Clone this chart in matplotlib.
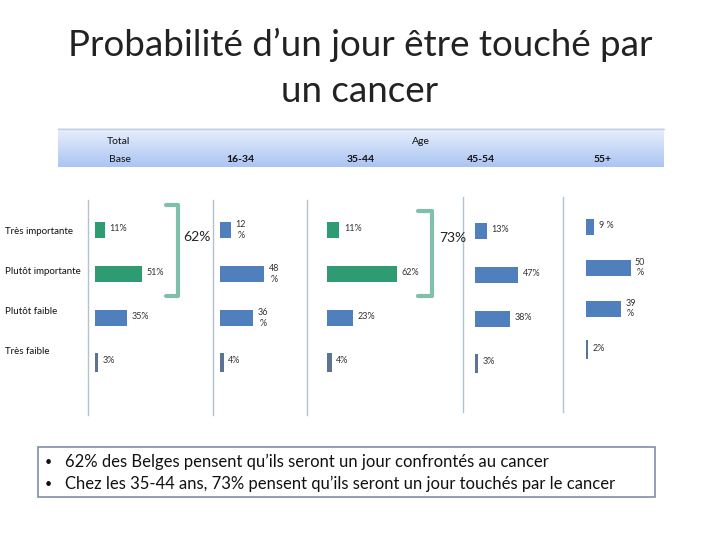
import matplotlib
matplotlib.use("Agg")
import matplotlib.pyplot as plt
import numpy as np

# ---------------- data ----------------
title_text = "Probabilité d\u2019un jour être touché par\nun cancer"
categories = ["Très importante", "Plutôt importante", "Plutôt faible", "Très faible"]
groups = ["Base", "16-34", "35-44", "45-54", "55+"]
total_vals = [11, 51, 35, 3]
age_16_34 = [12, 48, 36, 4]
age_35_44 = [11, 62, 23, 4]
age_45_54 = [13, 47, 38, 3]
age_55p = [9, 50, 39, 2]
labels_total = ["11%", "51%", "35%", "3%"]
labels_16_34 = ["12\n%", "48\n%", "36\n%", "4%"]
labels_35_44 = ["11%", "62%", "23%", "4%"]
labels_45_54 = ["13%", "47%", "38%", "3%"]
labels_55p = ["9 %", "50\n%", "39\n%", "2%"]
bracket_total = "62%"
bracket_35_44 = "73%"
bullets = ["62% des Belges pensent qu\u2019ils seront un jour confrontés au cancer",
           "Chez les 35-44 ans, 73% pensent qu\u2019ils seront un jour touchés par le cancer"]

FONT = ["Liberation Sans Narrow", "Lato", "DejaVu Sans"]
plt.rcParams["font.family"] = FONT

GREEN = "#2e9b72"
BLUE = "#4f7fbd"
THIN = "#5b7396"
BRACKET = "#80bfa8"
SEP = "#b4c2cc"
TXT = "#333333"

W, H = 720, 540
fig = plt.figure(figsize=(7.2, 5.4), dpi=100)
bg = fig.add_axes([0, 0, 1, 1])
bg.set_xlim(0, W)
bg.set_ylim(H, 0)
bg.axis("off")

# title
bg.text(360, 45, title_text.split("\n")[0], ha="center", va="center", fontsize=26.5,
        color="#222222", family=["Lato", "DejaVu Sans"])
bg.text(360, 92, title_text.split("\n")[1], ha="center", va="center", fontsize=26.5,
        color="#222222", family=["Lato", "DejaVu Sans"])

# header gradient band
grad = np.linspace(0, 1, 64).reshape(-1, 1)
top_c = np.array([0.91, 0.94, 0.99])
bot_c = np.array([0.67, 0.77, 0.95])
img = top_c + (bot_c - top_c) * grad[..., None]
img = np.repeat(img, 2, axis=1)
bg.imshow(img, extent=[58, 664, 167, 128], aspect="auto", interpolation="bilinear", zorder=1)
bg.plot([58, 664], [128.5, 128.5], color="#c4cfdc", lw=1, zorder=2)
bg.text(107, 141, "Total", fontsize=7.5, va="center", ha="left", color="#111111")
bg.text(421, 141, "Age", fontsize=7.5, va="center", ha="center", color="#111111")
for gx, g in zip([109, 240, 361, 481, 603], groups):
    bg.text(gx, 160, g, fontsize=7.5, va="center",
            ha="left" if g == "Base" else "center", color="#111111",
            fontweight="normal" if g == "Base" else "bold")

# row labels
for ry, c in zip([232, 271, 312, 352], categories):
    bg.text(5, ry, c, fontsize=7, va="center", ha="left", color="#111111")

# separators
for sx, y0, y1 in [(88, 200, 415), (213, 200, 415), (307, 200, 415),
                   (463, 197, 412), (563, 197, 412)]:
    bg.plot([sx, sx], [y0, y1], color=SEP, lw=1, zorder=2)

# brackets
def bracket(x0, x1, y0, y1, label, lx, ly):
    bg.plot([x0, x1, x1, x0], [y0, y0, y1, y1], color=BRACKET, lw=3,
            solid_joinstyle="round", solid_capstyle="round", zorder=3)
    bg.text(lx, ly, label, fontsize=10, va="center", ha="left", color="#222222",
            family=["Lato", "DejaVu Sans"])

bracket(166, 178, 205, 296, bracket_total, 183, 237)
bracket(418, 432, 211, 296, bracket_35_44, 439, 238)

# bottom text box
bg.add_patch(plt.Rectangle((38, 447), 617, 50, fill=False, ec="#7f8ea4", lw=1.2, zorder=3))
for by, t in zip([462, 484], bullets):
    bg.text(45, by, "\u2022", fontsize=9, va="center", ha="left", color="#111111")
    bg.text(65, by, t, fontsize=12, va="center", ha="left", color="#111111")

# panels: (values, labels, x start px, px per %, top px, row spacing px, green rows)
panels = [
    (total_vals, labels_total, 95, 0.92, 208, 44, [0, 1]),
    (age_16_34, labels_16_34, 220, 0.92, 208, 44, []),
    (age_35_44, labels_35_44, 327, 1.13, 208, 44, [0, 1]),
    (age_45_54, labels_45_54, 475, 0.92, 209, 44, []),
    (age_55p, labels_55p, 586, 0.89, 206, 41, []),
]

for vals, labs, x0, ppp, top, sp, greens in panels:
    width_px = 80 * ppp
    height_px = 4 * sp
    ax = fig.add_axes([x0 / W, 1 - (top + height_px) / H, width_px / W, height_px / H])
    ax.set_xlim(0, 80)
    ax.set_ylim(3.5, -0.5)
    ax.axis("off")
    ax.patch.set_alpha(0)
    ypos = np.arange(len(vals))
    cols = []
    for i in range(len(vals)):
        if i == 3:
            cols.append(THIN)
        elif i in greens:
            cols.append(GREEN)
        else:
            cols.append(BLUE)
    hts = [16 / sp] * 3 + [19 / sp]
    ax.barh(ypos, vals, height=hts, color=cols, edgecolor="none")
    for i, (v, lab) in enumerate(zip(vals, labs)):
        off = 4.5 / ppp
        ax.text(v + off, i - (0.03 if "\n" not in lab else 0), lab, fontsize=6.5,
                va="center", ha="left", color=TXT, linespacing=1.25,
                multialignment="center")

fig.savefig("out.png", dpi=100)
